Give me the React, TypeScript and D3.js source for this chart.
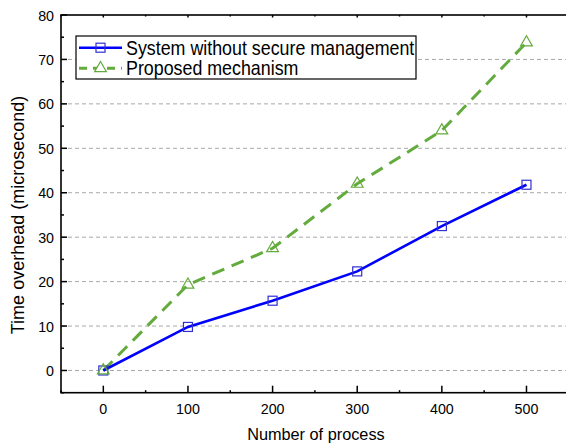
import { useEffect, useRef } from 'react';
import * as d3 from 'd3';

const processCounts = [0, 100, 200, 300, 400, 500];
const baselineTimes = [0, 9.8, 15.7, 22.3, 32.5, 41.8];
const proposedTimes = [0, 19.3, 27.5, 42, 54, 73.8];
const xTicks = [0, 100, 200, 300, 400, 500];
const yTicks = [0, 10, 20, 30, 40, 50, 60, 70, 80];
const seriesNames = ['System without secure management', 'Proposed mechanism'];

const WIDTH = 566;
const HEIGHT = 444;
const BLUE = '#0000ff';
const GREEN = '#63ab3c';
const FONT = 'Liberation Sans, Arial, sans-serif';

const App = () => {
  const svgRef = useRef<SVGSVGElement>(null);

  useEffect(() => {
    if (!svgRef.current) return;
    const svg = d3.select(svgRef.current);
    svg.selectAll('*').remove();

    const x = d3.scaleLinear().domain([-50, 550]).range([61, 568.8]);
    const y = d3.scaleLinear().domain([-5, 80]).range([392.7, 15]);
    const [x0, x1] = x.range();
    const [y0, y1] = y.range();

    // grid
    svg
      .append('g')
      .selectAll('line')
      .data(yTicks.filter((t) => t < 80))
      .enter()
      .append('line')
      .attr('x1', x0)
      .attr('x2', x1)
      .attr('y1', (d) => y(d))
      .attr('y2', (d) => y(d))
      .attr('stroke', '#a8a8a8')
      .attr('stroke-width', 1)
      .attr('stroke-dasharray', '4,3');

    // ticks (inward)
    const ticks = svg.append('g').attr('stroke', '#000');
    d3.range(-5, 81, 5).forEach((v) => {
      const len = v % 10 === 0 ? 6 : 3;
      ticks.append('line').attr('x1', x0).attr('x2', x0 + len).attr('y1', y(v)).attr('y2', y(v)).attr('stroke-width', 1.5);
    });
    d3.range(-50, 551, 50).forEach((v) => {
      const len = v % 100 === 0 ? 7 : 2.5;
      ticks.append('line').attr('x1', x(v)).attr('x2', x(v)).attr('y1', y0).attr('y2', y0 - len).attr('stroke-width', 1.5);
      ticks.append('line').attr('x1', x(v)).attr('x2', x(v)).attr('y1', y1).attr('y2', y1 + (v % 100 === 0 ? 2.5 : 1.5)).attr('stroke-width', 1.5);
    });

    // frame
    svg
      .append('rect')
      .attr('x', x0)
      .attr('y', y1)
      .attr('width', x1 - x0)
      .attr('height', y0 - y1)
      .attr('fill', 'none')
      .attr('stroke', '#000')
      .attr('stroke-width', 1.6);

    // tick labels, slightly condensed like the original
    svg
      .append('g')
      .selectAll('text')
      .data(yTicks)
      .enter()
      .append('text')
      .attr('transform', (d) => `translate(54,${y(d)}) scale(0.92,1)`)
      .attr('dy', '0.36em')
      .attr('text-anchor', 'end')
      .attr('font-family', FONT)
      .attr('font-size', 15.5)
      .text((d) => d);

    svg
      .append('g')
      .selectAll('text')
      .data(xTicks)
      .enter()
      .append('text')
      .attr('transform', (d) => `translate(${x(d)},413.5) scale(0.92,1)`)
      .attr('text-anchor', 'middle')
      .attr('font-family', FONT)
      .attr('font-size', 15.5)
      .text((d) => d);

    // axis titles
    svg
      .append('text')
      .attr('x', (x0 + x1) / 2 + 1)
      .attr('y', 440)
      .attr('text-anchor', 'middle')
      .attr('font-family', FONT)
      .attr('font-size', 16.3)
      .text('Number of process');

    svg
      .append('text')
      .attr('transform', 'translate(24,215) rotate(-90)')
      .attr('text-anchor', 'middle')
      .attr('font-family', FONT)
      .attr('font-size', 18)
      .text('Time overhead (microsecond)');

    const line = d3
      .line<number>()
      .x((_, i) => x(processCounts[i]))
      .y((d) => y(d));

    const tri = d3.symbol().type(d3.symbolTriangle).size(60);

    // proposed series
    svg
      .append('path')
      .datum(proposedTimes)
      .attr('d', line)
      .attr('fill', 'none')
      .attr('stroke', GREEN)
      .attr('stroke-width', 3)
      .attr('stroke-dasharray', '13,8');

    // baseline series
    svg
      .append('path')
      .datum(baselineTimes)
      .attr('d', line)
      .attr('fill', 'none')
      .attr('stroke', BLUE)
      .attr('stroke-width', 2.6);

    svg
      .append('g')
      .selectAll('rect')
      .data(baselineTimes)
      .enter()
      .append('rect')
      .attr('x', (_, i) => x(processCounts[i]) - 4.5)
      .attr('y', (d) => y(d) - 4.5)
      .attr('width', 9)
      .attr('height', 9)
      .attr('fill', 'none')
      .attr('stroke', '#3030d0')
      .attr('stroke-width', 1.2);

    svg
      .append('g')
      .selectAll('path')
      .data(proposedTimes)
      .enter()
      .append('path')
      .attr('d', tri)
      .attr('transform', (d, i) => `translate(${x(processCounts[i])},${y(d)})`)
      .attr('fill', 'none')
      .attr('stroke', GREEN)
      .attr('stroke-width', 1.2);

    // legend
    const legend = svg.append('g');
    legend
      .append('rect')
      .attr('x', 76)
      .attr('y', 36)
      .attr('width', 340)
      .attr('height', 43)
      .attr('fill', '#fff')
      .attr('stroke', '#000')
      .attr('stroke-width', 1.2);

    const rows = [47.7, 68.3];
    legend.append('line').attr('x1', 79).attr('x2', 122).attr('y1', rows[0]).attr('y2', rows[0]).attr('stroke', BLUE).attr('stroke-width', 2.6);
    legend
      .append('rect')
      .attr('x', 100.5 - 4.5)
      .attr('y', rows[0] - 4.5)
      .attr('width', 9)
      .attr('height', 9)
      .attr('fill', 'none')
      .attr('stroke', '#3030d0')
      .attr('stroke-width', 1.2);
    legend
      .append('line')
      .attr('x1', 79)
      .attr('x2', 122)
      .attr('y1', rows[1])
      .attr('y2', rows[1])
      .attr('stroke', GREEN)
      .attr('stroke-width', 3)
      .attr('stroke-dasharray', '8,6');
    legend
      .append('path')
      .attr('d', tri)
      .attr('transform', `translate(100.5,${rows[1]})`)
      .attr('fill', '#fff')
      .attr('stroke', GREEN)
      .attr('stroke-width', 1.2);

    legend
      .selectAll('text')
      .data(seriesNames)
      .enter()
      .append('text')
      .attr('transform', (_, i) => `translate(126,${rows[i]}) scale(0.915,1)`)
      .attr('dy', '0.36em')
      .attr('font-family', FONT)
      .attr('font-size', 19.5)
      .text((d) => d);
  }, []);

  return (
    <div style={{ position: 'absolute', left: 0, top: 0, width: WIDTH, height: HEIGHT, background: '#fff' }}>
      <svg ref={svgRef} width={WIDTH} height={HEIGHT} style={{ display: 'block' }} />
    </div>
  );
};

export default App;
